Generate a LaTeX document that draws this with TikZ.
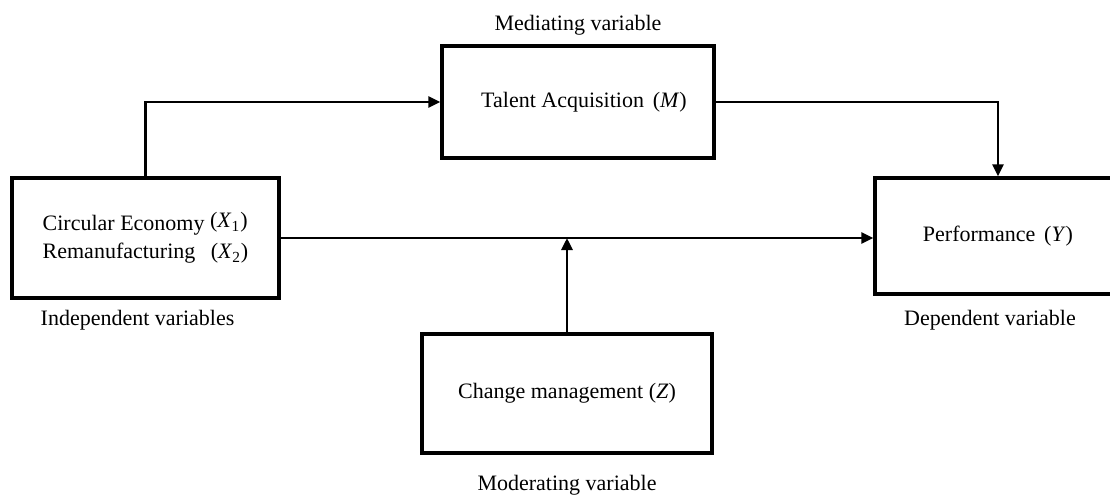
\documentclass[tikz,border=0pt]{standalone}
\usepackage{fontspec}
\setmainfont{Liberation Serif}
\usepackage{tikz}
\usetikzlibrary{positioning,calc,arrows.meta}

\begin{document}
\begin{tikzpicture}[x=0.5pt, y=-0.5pt,
        every node/.style={font=\fontsize{11}{14}\selectfont},
        box/.style={draw, line width=1.7pt, align=left, inner sep=0pt},
        conn/.style={line width=1.45pt, -{Triangle[length=6pt, width=5.5pt]}},
        lbl/.style={inner sep=0pt}
        ]
        \useasboundingbox (0,0) rectangle (1110,495);
        \clip (0,0) rectangle (1110,495);

        \node[box, minimum width=133.5pt, minimum height=60pt] (ce) at (145.5,238)
          {Circular Economy \raisebox{1.5pt}{(\textit{X}\textsubscript{1})}\\ Remanufacturing\hspace{0.7em}(\textit{X}\textsubscript{2})\hspace{7pt}};
        \node[box, minimum width=136pt, minimum height=56pt] (ta) at (578,102)
          {\hspace{6pt}Talent Acquisition\hspace{0.4em}(\textit{M})};
        \node[box, minimum width=123pt, minimum height=58pt] (perf) at (998,236)
          {Performance\hspace{0.4em}(\textit{Y})};
        \node[box, minimum width=145pt, minimum height=59.5pt] (cm) at (567,393.5)
          {Change management (\textit{Z})};

        \node[lbl, above=4.5pt of ta] (med) {Mediating variable};
        \node[lbl, below=5pt of ce, xshift=-4pt] (ind) {Independent variables};
        \node[lbl, below=7pt of perf, xshift=-4pt] (dep) {Dependent variable};
        \node[lbl, below=10pt of cm] (mod) {Moderating variable};

        \coordinate (jn) at (cm.north |- ce.east);

        \draw[conn] (ce.north) |- (ta.west);
        \draw[conn] (ta.east) -| (perf.north);
        \draw[conn] (ce.east) -- (ce.east -| perf.west);
        \draw[conn] (cm.north) -- (jn);
\end{tikzpicture}
\end{document}
